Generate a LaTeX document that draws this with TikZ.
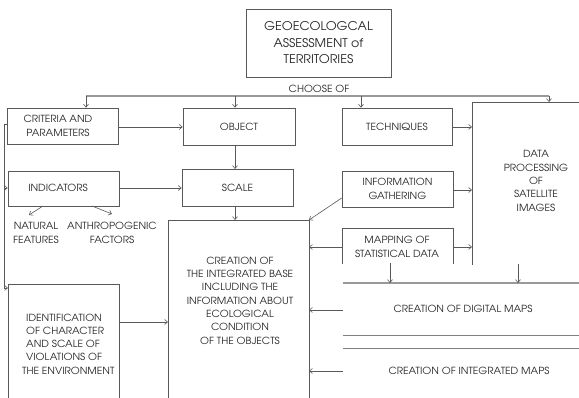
\documentclass[tikz,border=0pt]{standalone}
\usepackage{fontspec}
\setmainfont[FakeStretch=1.05]{TeX Gyre Adventor}
\usetikzlibrary{arrows.meta}
\begin{document}
\begin{tikzpicture}[x=1pt,y=-1pt,
  txt/.style={font=\fontsize{9.8}{13.3}\selectfont, text=black!85, inner sep=0pt, align=center},
  box/.style={draw=black!65, line width=0.6pt, inner sep=0pt, txt},
  ln/.style={draw=black!65, line width=0.6pt},
  thk/.style={draw=black!40, line width=1.1pt},
  arr/.style={ln, -{Straight Barb[length=3pt,width=5pt]}},
  arrt/.style={thk, -{Straight Barb[length=3pt,width=5pt]}}]
\useasboundingbox[fill=white] (0,0) rectangle (579,398);

% closed boxes
\node[box, minimum width=145pt, minimum height=68pt, font=\fontsize{12}{16.5}\selectfont] (top) at (318.5,43) {GEOECOLOGCAL\\ASSESSMENT of\\TERRITORIES};
\node[txt] (choose) at (319,89) {CHOOSE OF};
\node[box, minimum width=111pt, minimum height=36pt] (crit) at (62.5,126) {};
\node[txt] (critt) at (58,126) {CRITERIA AND\\PARAMETERS};
\node[box, minimum width=112pt, minimum height=37pt] (obj) at (239,126.5) {OBJECT};
\node[box, minimum width=110pt, minimum height=37pt] (tech) at (397,126.5) {TECHNIQUES};
\node[box, minimum width=111pt, minimum height=35pt] (ind) at (63.5,188.5) {};
\node[txt] (indt) at (58,188) {INDICATORS};
\node[box, minimum width=111pt, minimum height=37pt] (scale) at (237.5,187.5) {SCALE};
\node[box, minimum width=111pt, minimum height=36pt] (info) at (397.5,189) {INFORMATION\\GATHERING};
\node[txt] (nat) at (36,233) {NATURAL\\FEATURES};
\node[txt] (anth) at (112,233) {ANTHROPOGENIC\\FACTORS};

% open boxes
\coordinate (mapTL) at (342,228); \coordinate (mapTR) at (453,228);
\draw[ln] (342,264) -- (mapTL) -- (mapTR) -- (453,264);
\node[txt] (mapt) at (397,247) {MAPPING OF\\STATISTICAL DATA};

\coordinate (dpTL) at (472,102);
\draw[ln] (472,265) -- (dpTL) -- (579,102);
\node[txt] (dpt) at (536,181) {DATA\\PROCESSING\\OF\\SATELLITE\\IMAGES};

\coordinate (bigTL) at (168,220); \coordinate (bigTR) at (309,220);
\draw[ln] (168,398) -- (bigTL) -- (bigTR) -- (309,398);
\node[txt] (bigt) at (240,300.5) {CREATION OF\\THE INTEGRATED BASE\\INCLUDING THE\\INFORMATION ABOUT\\ECOLOGICAL\\CONDITION\\OF THE OBJECTS};

\coordinate (idTL) at (8,284); \coordinate (idTR) at (119,284);
\draw[ln] (8,398) -- (idTL) -- (idTR) -- (119,398);
\node[txt, align=left, anchor=west] (idt) at (26,344) {IDENTIFICATION\\OF CHARACTER\\AND SCALE OF\\VIOLATIONS OF\\\hspace*{-4pt}THE ENVIRONMENT};

% right bottom strips
\coordinate (s1) at (343,283); \coordinate (s2) at (343,335); \coordinate (s3) at (343,348);
\draw[thk] (s1) -- (579,283);
\draw[ln, draw=black!50] (s2) -- (579,335);
\draw[ln, draw=black!50] (s3) -- (579,348);
\node[txt] (dig) at (463,309) {CREATION OF DIGITAL MAPS};
\node[txt] (integ) at (469,371) {CREATION OF INTEGRATED MAPS};

% choose line
\coordinate (c1) at (86,96); \coordinate (c2) at (235,96); \coordinate (c3) at (361,96); \coordinate (c4) at (549,96);
\draw[thk] (c1) -- (c4);
\draw[arr] (c1) -- (c1 |- crit.north);
\draw[arr] (c2) -- (c2 |- obj.north);
\draw[arr] (c3) -- (c3 |- tech.north);
\draw[arr] (c4) -- (c4 |- dpTL);

% connectors
\draw[arr] (crit.east |- 0,127) -- (obj.west |- 0,127);
\draw[arr] (tech.east |- 0,127) -- (472,127);
\draw[arr] (ind.east |- 0,188) -- (scale.west |- 0,188);
\draw[arr] (235,145) -- (235,169);
\draw[arr] (235,206) -- (bigTL -| 235,0);
\draw[arr] (43,206) -- (29,215);
\draw[arr] (92,206) -- (112,214);
\draw[arr] (info.east |- 0,190) -- (472,190);
\draw[arr] (info.west |- 0,198) -- (bigTR);
\draw[arr] (342,247) -- (309,247);
\draw[arr] (453,247) -- (472,247);
\draw[arr] (390,263) -- (390,283);
\draw[arr] (518,264) -- (518,283);
\draw[arr] (343,310) -- (309,310);
\draw[arr] (343,371) -- (309,371);
\draw[ln] (crit.west |- 0,124) -- (4,124) -- (4,288);
\draw[arr] (4,288) -- (8,288);
\draw[arr] (4,188) -- (ind.west |- 0,188);
\draw[arr] (idTR |- 0,322) -- (168,322);
\end{tikzpicture}
\end{document}
